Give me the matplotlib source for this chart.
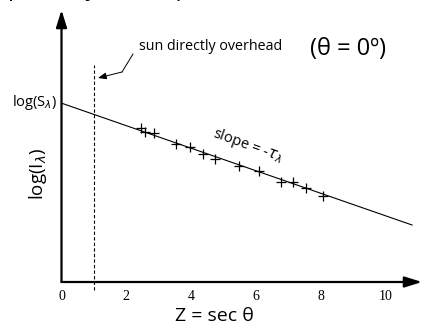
import matplotlib
matplotlib.use("Agg")
import matplotlib.pyplot as plt

# Data
z_points = [2.44, 2.59, 2.84, 3.52, 3.98, 4.38, 4.75, 5.49, 6.11, 6.79, 7.16, 7.56, 8.06]
logI_points = [4.75, 4.63, 4.60, 4.26, 4.17, 3.95, 3.80, 3.58, 3.43, 3.09, 3.09, 2.90, 2.65]
log_S = 5.52
tau = 0.3476
fit_z = [0.0, 10.82]
x_ticks = [0, 2, 4, 6, 8, 10]
overhead_z = 1.0

SANS = ["Open Sans", "DejaVu Sans"]
SERIF = ["Liberation Serif", "DejaVu Serif"]

W, H = 425, 327
fig = plt.figure(figsize=(W / 100, H / 100), dpi=100)
L, R, B, T = 61.5, 422, 282, 10
ax = fig.add_axes([L / W, (H - B) / H, (R - L) / W, (B - T) / H])
unit = 32.4
xmax = (R - L) / unit
ymax = (B - T) / unit
ax.set_xlim(0, xmax)
ax.set_ylim(0, ymax)
for s in ax.spines.values():
    s.set_visible(False)
ax.set_yticks([])
ax.set_xticks(x_ticks)
ax.set_xticklabels([str(t) for t in x_ticks], family=SERIF, fontsize=10)
ax.tick_params(axis="x", length=0, pad=6)

# axes with arrows
arrow_kw = dict(arrowstyle="-|>,head_length=0.8,head_width=0.25", lw=1.6, color="black",
                shrinkA=0, shrinkB=0, mutation_scale=13)
ax.annotate("", xy=(0, ymax), xytext=(0, 0), arrowprops=arrow_kw, annotation_clip=False)
ax.annotate("", xy=(xmax, 0), xytext=(0, 0), arrowprops=arrow_kw, annotation_clip=False)

# fit line
fit_y = [log_S - tau * z for z in fit_z]
ax.plot(fit_z, fit_y, color="black", lw=0.8, clip_on=False)

# points
ax.plot(z_points, logI_points, linestyle="none", marker="+", markersize=7.5,
        mew=0.9, color="black", clip_on=False)

# dashed overhead line
ax.plot([overhead_z, overhead_z], [-0.25, (B - 65) / unit], color="black", lw=0.8,
        linestyle=(0, (3, 2)), clip_on=False)

def d(px, py):
    return ((px - L) / unit, (B - py) / unit)

# annotation arrow for "sun directly overhead"
p1, p2, p3 = d(133, 54), d(122, 72), d(98, 78)
ax.plot([p1[0], p2[0]], [p1[1], p2[1]], color="black", lw=0.7, clip_on=False)
ax.annotate("", xy=p3, xytext=p2,
            arrowprops=dict(arrowstyle="-|>,head_length=0.5,head_width=0.2", lw=0.7,
                            color="black", shrinkA=0, shrinkB=0, mutation_scale=10),
            annotation_clip=False)

ax.text(*d(139, 46), "sun directly overhead", family=SANS, fontsize=10.3,
        ha="left", va="center")
ax.text(*d(348, 49), "(θ = 0º)", family=SANS, fontsize=17, ha="center", va="center")
ax.text(*d(57, 103), r"log(S$_{\lambda}$)", family=SANS, fontsize=10.5,
        ha="right", va="center")
ax.text(*d(38, 174), r"log(I$_{\lambda}$)", family=SANS, fontsize=13.5, rotation=90,
        ha="center", va="center")
ax.text(*d(248, 146), r"slope = -$\tau_{\lambda}$", family=SANS, fontsize=10.5,
        rotation=-20, ha="center", va="center", rotation_mode="anchor")
ax.text(*d(214, 316), "Z = sec θ", family=SANS, fontsize=14, ha="center", va="center")

# title cut off at top of the picture
fig.text(-0.055, 1 + 4.0 / H, "Slope and y-intercept", family=SANS, fontsize=16,
         ha="left", va="baseline")

fig.savefig("out.png", dpi=100)
